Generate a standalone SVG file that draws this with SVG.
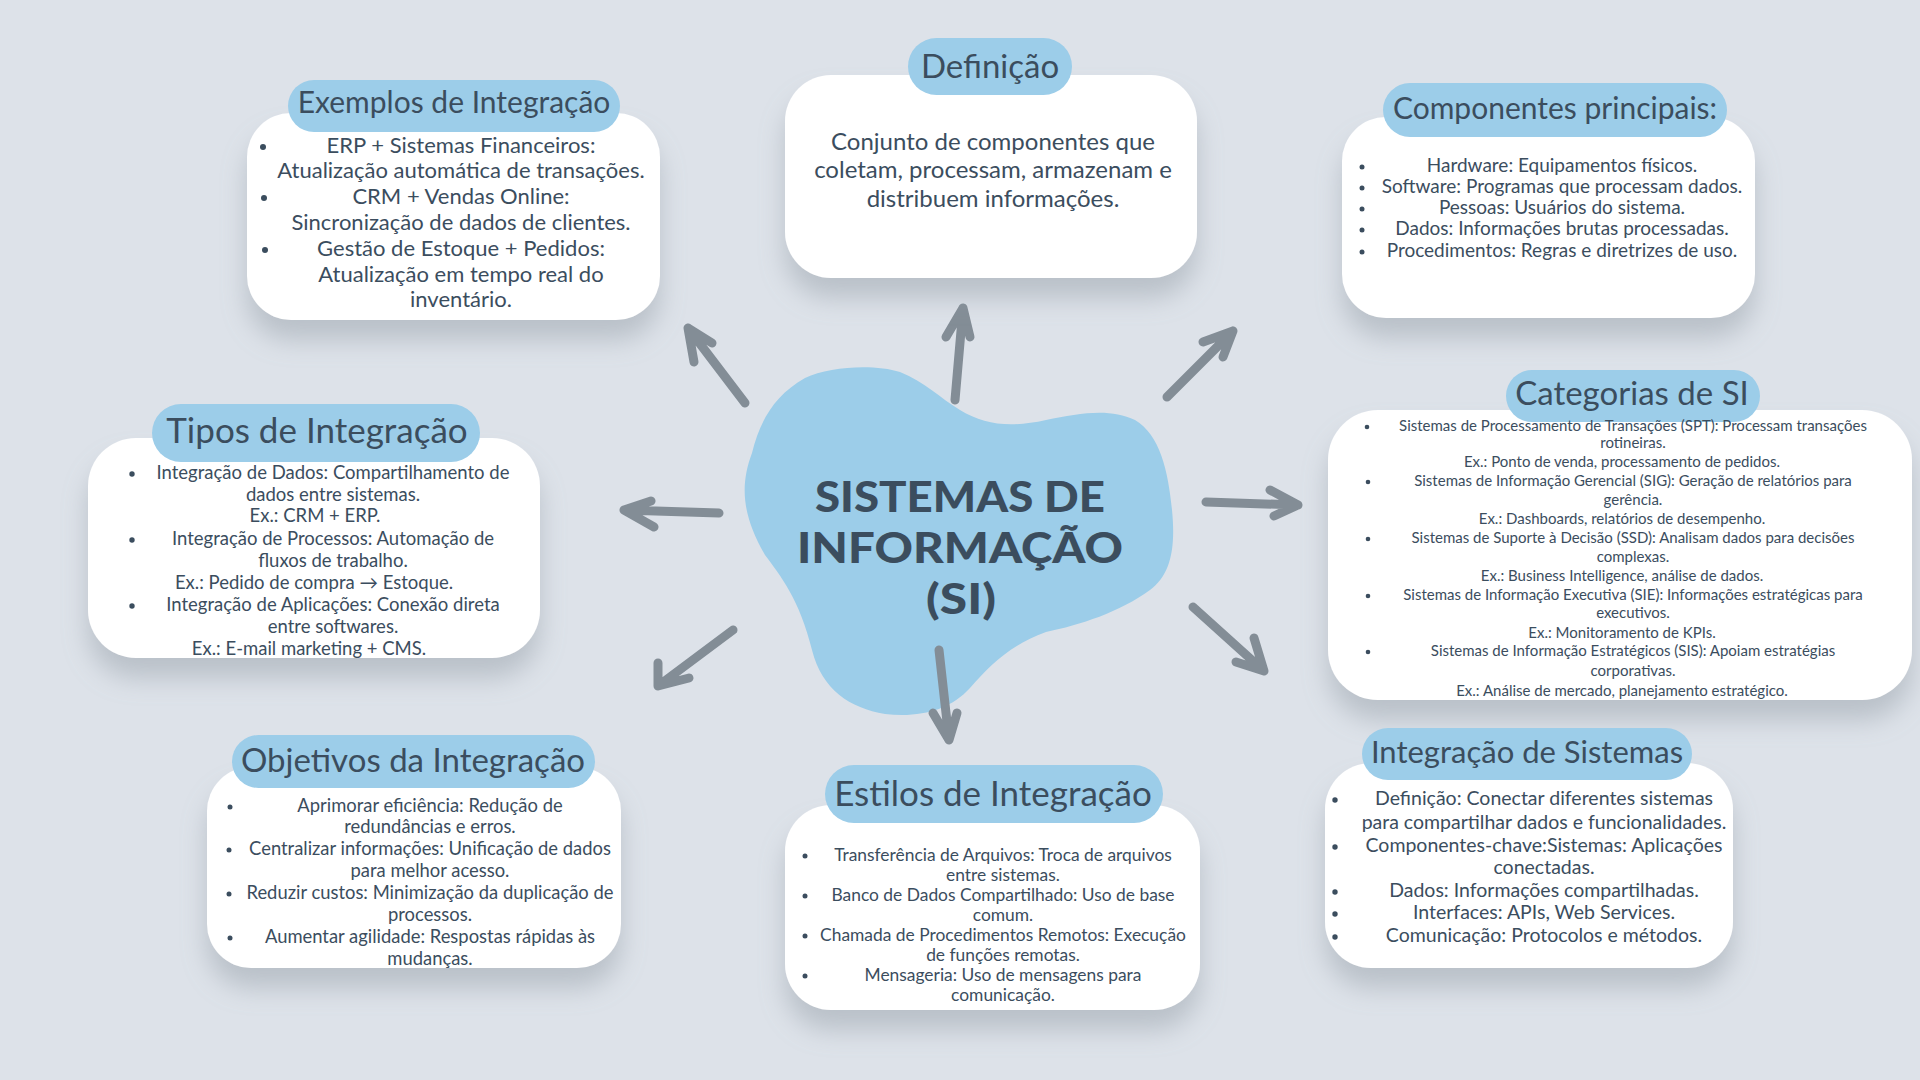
<svg xmlns="http://www.w3.org/2000/svg" width="1920" height="1080" viewBox="0 0 1920 1080">
<defs>
<filter id="sh" x="-20%" y="-20%" width="140%" height="160%">
<feDropShadow dx="0" dy="20" stdDeviation="13" flood-color="#8d97a2" flood-opacity="0.45"/>
</filter>
<style>
.box{fill:#ffffff;filter:url(#sh)}
.pill{fill:#9ccde9}
.ttl{font-family:Lato,"Open Sans",sans-serif;fill:#3b4d5e;text-anchor:middle}
.txt{font-family:Lato,"Open Sans",sans-serif;fill:#3b4d5e;text-anchor:middle}
.bul{fill:#3b4d5e}
.arr{fill:none;stroke:#838d96;stroke-width:9;stroke-linecap:round;stroke-linejoin:round}
.big{font-family:Lato,"Open Sans",sans-serif;font-weight:900;font-size:42px;fill:#3b4d5e;text-anchor:middle}
</style>
</defs>
<rect width="1920" height="1080" fill="#dde2e9"/>

<g id="center">
<path d="M752,453 C760,420 775,395 805,378 C830,366 875,364 900,372 C925,382 940,398 960,410 C985,425 1010,428 1046,420 C1080,413 1110,408 1135,420 C1160,435 1168,470 1172,510 C1176,550 1170,575 1150,590 C1120,612 1080,625 1046,632 C1010,645 990,665 970,688 C950,710 920,718 885,714 C850,708 822,690 812,650 C800,600 780,575 765,555 C745,520 738,490 752,453 Z" fill="#9ccde9"/>
<text class="big" x="960" y="512" textLength="290" lengthAdjust="spacingAndGlyphs">SISTEMAS DE</text>
<text class="big" x="960" y="563" textLength="326" lengthAdjust="spacingAndGlyphs">INFORMAÇÃO</text>
<text class="big" x="961" y="614" textLength="70" lengthAdjust="spacingAndGlyphs">(SI)</text>
</g>

<g id="connectors">
<path class="arr" d="M745,403 L688,328 M694,362 L688,328 L712,343"/>
<path class="arr" d="M955,400 L963,308 M946,337 L963,308 L970,337"/>
<path class="arr" d="M1167,397 L1233,331 M1203,342 L1233,331 L1223,357"/>
<path class="arr" d="M1206,502 L1298,505 M1270,490 L1298,505 L1274,516"/>
<path class="arr" d="M1193,607 L1264,671 M1236,662 L1264,671 L1254,638"/>
<path class="arr" d="M939,650 L949,740 M933,713 L949,740 L957,713"/>
<path class="arr" d="M733,630 L658,686 M658,663 L658,686 L689,678"/>
<path class="arr" d="M719,513 L624,510 M651,501 L624,510 L654,527"/>
</g>

<g id="exemplos">
<rect class="box" x="247" y="113" width="413" height="207" rx="44"/>
<rect class="pill" x="288" y="80" width="332" height="52" rx="26"/>
<text class="ttl" x="454" y="113" font-size="30">Exemplos de Integração</text>
<g class="txt" font-size="22">
<text x="461" y="153">ERP + Sistemas Financeiros:</text>
<text x="461" y="178">Atualização automática de transações.</text>
<text x="461" y="204">CRM + Vendas Online:</text>
<text x="461" y="230">Sincronização de dados de clientes.</text>
<text x="461" y="256">Gestão de Estoque + Pedidos:</text>
<text x="461" y="282">Atualização em tempo real do</text>
<text x="461" y="307">inventário.</text>
</g>
<g class="bul"><circle cx="263" cy="147" r="3"/><circle cx="264" cy="198" r="3"/><circle cx="265" cy="250" r="3"/></g>
</g>

<g id="definicao">
<rect class="box" x="785" y="75" width="412" height="203" rx="46"/>
<rect class="pill" x="908" y="38" width="164" height="57" rx="28.5"/>
<text class="ttl" x="990" y="78" font-size="33">Definição</text>
<g class="txt" font-size="24">
<text x="993" y="150">Conjunto de componentes que</text>
<text x="993" y="178">coletam, processam, armazenam e</text>
<text x="993" y="207">distribuem informações.</text>
</g>
</g>

<g id="componentes">
<rect class="box" x="1342" y="117" width="413" height="201" rx="44"/>
<rect class="pill" x="1383" y="83" width="344" height="54" rx="27"/>
<text class="ttl" x="1555" y="119" font-size="30">Componentes principais:</text>
<g class="txt" font-size="19">
<text x="1562" y="172">Hardware: Equipamentos físicos.</text>
<text x="1562" y="193">Software: Programas que processam dados.</text>
<text x="1562" y="214">Pessoas: Usuários do sistema.</text>
<text x="1562" y="235">Dados: Informações brutas processadas.</text>
<text x="1562" y="257">Procedimentos: Regras e diretrizes de uso.</text>
</g>
<g class="bul"><circle cx="1362" cy="167" r="2.5"/><circle cx="1362" cy="188" r="2.5"/><circle cx="1362" cy="209" r="2.5"/><circle cx="1362" cy="230" r="2.5"/><circle cx="1362" cy="252" r="2.5"/></g>
</g>

<g id="categorias">
<rect class="box" x="1328" y="410" width="584" height="290" rx="50"/>
<rect class="pill" x="1506" y="370" width="254" height="52" rx="26"/>
<text class="ttl" x="1632" y="405" font-size="33">Categorias de SI</text>
<g class="txt" font-size="15">
<text x="1633" y="431">Sistemas de Processamento de Transações (SPT): Processam transações</text>
<text x="1633" y="448">rotineiras.</text>
<text x="1622" y="467">Ex.: Ponto de venda, processamento de pedidos.</text>
<text x="1633" y="486">Sistemas de Informação Gerencial (SIG): Geração de relatórios para</text>
<text x="1633" y="505">gerência.</text>
<text x="1622" y="524">Ex.: Dashboards, relatórios de desempenho.</text>
<text x="1633" y="543">Sistemas de Suporte à Decisão (SSD): Analisam dados para decisões</text>
<text x="1633" y="562">complexas.</text>
<text x="1622" y="581">Ex.: Business Intelligence, análise de dados.</text>
<text x="1633" y="600">Sistemas de Informação Executiva (SIE): Informações estratégicas para</text>
<text x="1633" y="618">executivos.</text>
<text x="1622" y="638">Ex.: Monitoramento de KPIs.</text>
<text x="1633" y="656">Sistemas de Informação Estratégicos (SIS): Apoiam estratégias</text>
<text x="1633" y="676">corporativas.</text>
<text x="1622" y="696">Ex.: Análise de mercado, planejamento estratégico.</text>
</g>
<g class="bul"><circle cx="1367" cy="427" r="2.3"/><circle cx="1368" cy="482" r="2.3"/><circle cx="1368" cy="539" r="2.3"/><circle cx="1368" cy="596" r="2.3"/><circle cx="1368" cy="652" r="2.3"/></g>
</g>

<g id="tipos">
<rect class="box" x="88" y="438" width="452" height="220" rx="48"/>
<rect class="pill" x="152" y="404" width="328" height="58" rx="29"/>
<text class="ttl" x="317" y="443" font-size="35">Tipos de Integração</text>
<g class="txt" font-size="18.5">
<text x="333" y="479">Integração de Dados: Compartilhamento de</text>
<text x="333" y="501">dados entre sistemas.</text>
<text x="315" y="522">Ex.: CRM + ERP.</text>
<text x="333" y="545">Integração de Processos: Automação de</text>
<text x="333" y="567">fluxos de trabalho.</text>
<text x="314" y="589">Ex.: Pedido de compra → Estoque.</text>
<text x="333" y="611">Integração de Aplicações: Conexão direta</text>
<text x="333" y="633">entre softwares.</text>
<text x="309" y="655">Ex.: E-mail marketing + CMS.</text>
</g>
<g class="bul"><circle cx="132" cy="474" r="2.7"/><circle cx="132" cy="540" r="2.7"/><circle cx="132" cy="606" r="2.7"/></g>
</g>

<g id="objetivos">
<rect class="box" x="207" y="767" width="414" height="201" rx="44"/>
<rect class="pill" x="232" y="735" width="363" height="53" rx="26.5"/>
<text class="ttl" x="413" y="772" font-size="33">Objetivos da Integração</text>
<g class="txt" font-size="18.4">
<text x="430" y="812">Aprimorar eficiência: Redução de</text>
<text x="430" y="833">redundâncias e erros.</text>
<text x="430" y="855">Centralizar informações: Unificação de dados</text>
<text x="430" y="877">para melhor acesso.</text>
<text x="430" y="899">Reduzir custos: Minimização da duplicação de</text>
<text x="430" y="921">processos.</text>
<text x="430" y="943">Aumentar agilidade: Respostas rápidas às</text>
<text x="430" y="965">mudanças.</text>
</g>
<g class="bul"><circle cx="230" cy="807" r="2.5"/><circle cx="229" cy="850" r="2.5"/><circle cx="229" cy="894" r="2.5"/><circle cx="230" cy="938" r="2.5"/></g>
</g>

<g id="estilos">
<rect class="box" x="785" y="805" width="415" height="205" rx="46"/>
<rect class="pill" x="825" y="765" width="338" height="58" rx="29"/>
<text class="ttl" x="993" y="806" font-size="35">Estilos de Integração</text>
<g class="txt" font-size="17.4">
<text x="1003" y="861">Transferência de Arquivos: Troca de arquivos</text>
<text x="1003" y="881">entre sistemas.</text>
<text x="1003" y="901">Banco de Dados Compartilhado: Uso de base</text>
<text x="1003" y="921">comum.</text>
<text x="1003" y="941">Chamada de Procedimentos Remotos: Execução</text>
<text x="1003" y="961">de funções remotas.</text>
<text x="1003" y="981">Mensageria: Uso de mensagens para</text>
<text x="1003" y="1001">comunicação.</text>
</g>
<g class="bul"><circle cx="805" cy="856" r="2.5"/><circle cx="805" cy="896" r="2.5"/><circle cx="805" cy="936" r="2.5"/><circle cx="805" cy="976" r="2.5"/></g>
</g>

<g id="integracao-sistemas">
<rect class="box" x="1325" y="763" width="408" height="205" rx="46"/>
<rect class="pill" x="1362" y="728" width="330" height="52" rx="26"/>
<text class="ttl" x="1527" y="763" font-size="31">Integração de Sistemas</text>
<g class="txt" font-size="19.5">
<text x="1544" y="805">Definição: Conectar diferentes sistemas</text>
<text x="1544" y="829">para compartilhar dados e funcionalidades.</text>
<text x="1544" y="852">Componentes-chave:Sistemas: Aplicações</text>
<text x="1544" y="874">conectadas.</text>
<text x="1544" y="897">Dados: Informações compartilhadas.</text>
<text x="1544" y="919">Interfaces: APIs, Web Services.</text>
<text x="1544" y="942">Comunicação: Protocolos e métodos.</text>
</g>
<g class="bul"><circle cx="1335" cy="800" r="2.7"/><circle cx="1335" cy="847" r="2.7"/><circle cx="1335" cy="892" r="2.7"/><circle cx="1335" cy="914" r="2.7"/><circle cx="1335" cy="937" r="2.7"/></g>
</g>
</svg>
